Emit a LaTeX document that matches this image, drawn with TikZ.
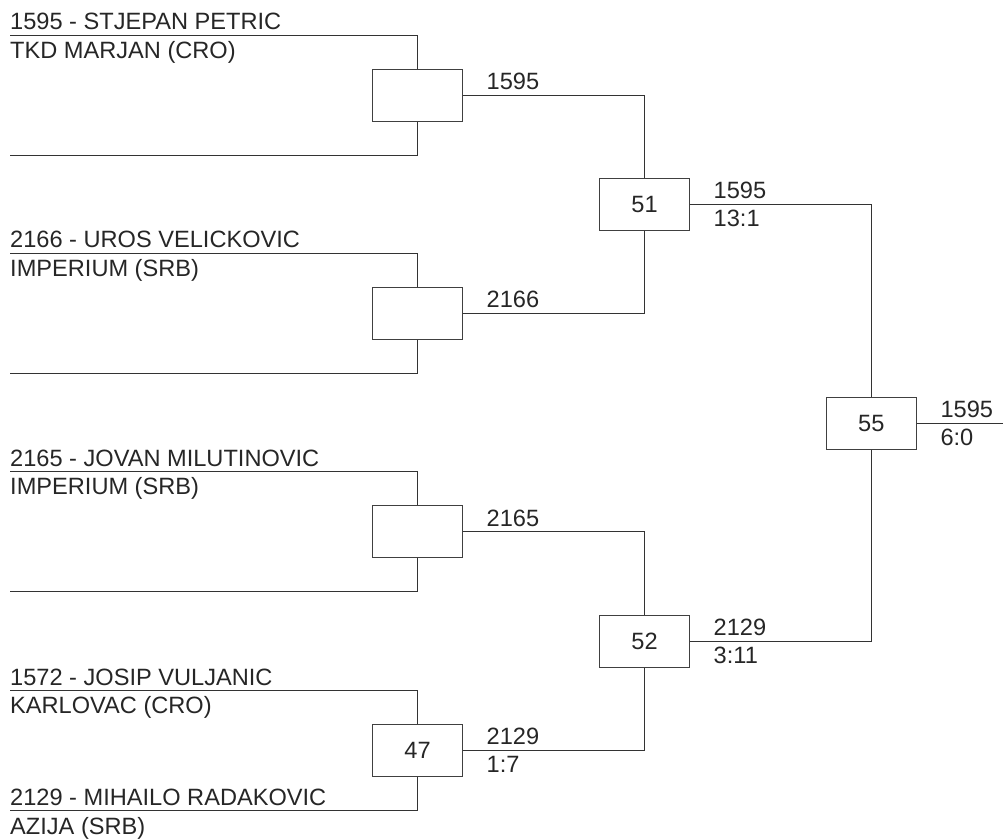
\documentclass[tikz,border=0pt]{standalone}
\usepackage{fontspec}
\setmainfont{Liberation Sans}
\begin{document}
\begin{tikzpicture}[x=1pt,y=-1pt,
  match/.style={draw=black!75, line width=1pt, minimum width=90pt, minimum height=52pt, inner sep=0pt, font=\fontsize{23.6}{28}\selectfont, text=black!85},
  wire/.style={draw=black!80, line width=1pt},
  lbl/.style={font=\fontsize{23.6}{28}\selectfont, inner sep=0pt, anchor=base west, text=black!85}]
\useasboundingbox (0,0) rectangle (1003,838);
% round 1 matches
\node[match] (m1) at (417.5,95) {};
\node[match] (m2) at (417.5,313.3) {};
\node[match] (m3) at (417.5,531.6) {};
\node[match] (m4) at (417.5,750) {47};
% round 2
\node[match] (m5) at (644.5,204) {51};
\node[match] (m6) at (644.5,641.3) {52};
% final
\node[match] (m7) at (871.3,423) {55};
% entry lines
\coordinate (t1) at (10,35);   \coordinate (b1) at (10,155);
\coordinate (t2) at (10,253.3); \coordinate (b2) at (10,373.3);
\coordinate (t3) at (10,471.6); \coordinate (b3) at (10,591.6);
\coordinate (t4) at (10,690.5); \coordinate (b4) at (10,810.5);
\draw[wire] (t1) -| (m1.north); \draw[wire] (b1) -| (m1.south);
\draw[wire] (t2) -| (m2.north); \draw[wire] (b2) -| (m2.south);
\draw[wire] (t3) -| (m3.north); \draw[wire] (b3) -| (m3.south);
\draw[wire] (t4) -| (m4.north); \draw[wire] (b4) -| (m4.south);
% competitor labels
\node[lbl] (p1) at (10,29.5) {1595 - STJEPAN PETRIC};
\node[lbl] (c1) at (10,58) {TKD MARJAN (CRO)};
\node[lbl] (p2) at (10,247.8) {2166 - UROS VELICKOVIC};
\node[lbl] (c2) at (10,276.3) {IMPERIUM (SRB)};
\node[lbl] (p3) at (10,466.1) {2165 - JOVAN MILUTINOVIC};
\node[lbl] (c3) at (10,494.6) {IMPERIUM (SRB)};
\node[lbl] (p4) at (10,685) {1572 - JOSIP VULJANIC};
\node[lbl] (c4) at (10,713.5) {KARLOVAC (CRO)};
\node[lbl] (p5) at (10,805.5) {2129 - MIHAILO RADAKOVIC};
\node[lbl] (c5) at (10,834) {AZIJA (SRB)};
% connections between rounds
\draw[wire] (m1.east) -| (m5.north);
\draw[wire] (m2.east) -| (m5.south);
\draw[wire] (m3.east) -| (m6.north);
\draw[wire] (m4.east) -| (m6.south);
\draw[wire] (m5.east) -| (m7.north);
\draw[wire] (m6.east) -| (m7.south);
\coordinate (out) at (1003,423);
\draw[wire] (m7.east) -- (out);
% result labels
\node[lbl] (w1) at (486.5,89.5) {1595};
\node[lbl] (w2) at (486.5,307.8) {2166};
\node[lbl] (w3) at (486.5,526.1) {2165};
\node[lbl] (w4) at (486.5,744.5) {2129};
\node[lbl] (s4) at (486.5,772.5) {1:7};
\node[lbl] (w5) at (713.5,198.5) {1595};
\node[lbl] (s5) at (713.5,226.5) {13:1};
\node[lbl] (w6) at (713.5,635.8) {2129};
\node[lbl] (s6) at (713.5,663.8) {3:11};
\node[lbl] (w7) at (940.3,417.5) {1595};
\node[lbl] (s7) at (940.3,445.5) {6:0};
\end{tikzpicture}
\end{document}
